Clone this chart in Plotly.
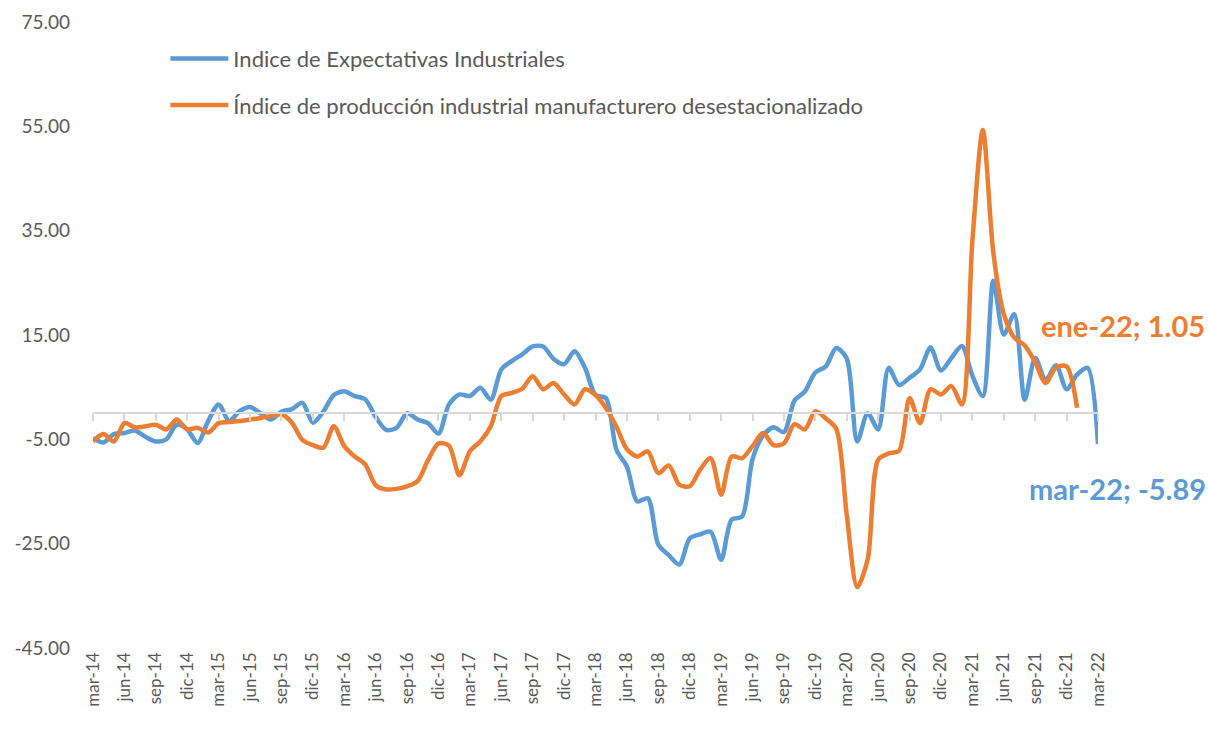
import plotly.graph_objects as go

months = ["mar-14","abr-14","may-14","jun-14","jul-14","ago-14","sep-14","oct-14","nov-14","dic-14",
          "ene-15","feb-15","mar-15","abr-15","may-15","jun-15","jul-15","ago-15","sep-15","oct-15","nov-15","dic-15",
          "ene-16","feb-16","mar-16","abr-16","may-16","jun-16","jul-16","ago-16","sep-16","oct-16","nov-16","dic-16",
          "ene-17","feb-17","mar-17","abr-17","may-17","jun-17","jul-17","ago-17","sep-17","oct-17","nov-17","dic-17",
          "ene-18","feb-18","mar-18","abr-18","may-18","jun-18","jul-18","ago-18","sep-18","oct-18","nov-18","dic-18",
          "ene-19","feb-19","mar-19","abr-19","may-19","jun-19","jul-19","ago-19","sep-19","oct-19","nov-19","dic-19",
          "ene-20","feb-20","mar-20","abr-20","may-20","jun-20","jul-20","ago-20","sep-20","oct-20","nov-20","dic-20",
          "ene-21","feb-21","mar-21","abr-21","may-21","jun-21","jul-21","ago-21","sep-21","oct-21","nov-21","dic-21",
          "ene-22","feb-22","mar-22"]

expectativas = [-4.7, -5.6, -4.0, -3.8, -3.3, -4.5, -5.4, -5.0, -2.2, -3.1,
                -5.7, -1.5, 1.7, -1.5, 0.4, 1.2, 0.0, -1.2, 0.3, 0.8, 2.0, -1.8,
                0.3, 3.5, 4.2, 3.3, 2.7, -0.7, -3.2, -2.8, 0.0, -1.2, -1.9, -3.9,
                1.7, 3.6, 3.3, 4.9, 2.6, 8.4, 10.0, 11.3, 12.8, 12.8, 10.4, 9.4,
                11.9, 8.7, 3.5, 2.9, -7.0, -10.2, -16.9, -16.3, -25.2, -27.2, -29.0, -24.0,
                -23.2, -22.7, -28.1, -20.4, -19.8, -8.8, -4.3, -2.7, -3.6, 2.4, 4.2, 7.8,
                9.0, 12.5, 10.5, -5.4, 0.0, -3.1, 8.7, 5.4, 6.8, 8.4, 12.6, 8.2,
                10.6, 12.9, 7.2, 3.3, 25.4, 15.1, 19.0, 2.6, 10.6, 6.4, 9.2, 4.6,
                7.4, 8.7, -5.89]

produccion = [-5.4, -4.0, -5.4, -1.9, -2.7, -2.5, -2.2, -3.1, -1.2, -3.1,
              -2.8, -3.7, -1.9, -1.7, -1.5, -1.2, -0.9, -0.5, -0.2, -1.8, -5.1, -6.1,
              -6.6, -2.5, -6.3, -8.3, -9.8, -13.8, -14.6, -14.5, -14.0, -13.0, -9.0, -5.8,
              -6.2, -11.9, -7.3, -5.4, -2.5, 3.3, 3.9, 4.7, 7.1, 4.6, 5.8, 3.6,
              1.7, 4.6, 3.5, 1.0, -2.6, -6.9, -8.3, -7.3, -11.5, -10.0, -13.7, -14.0,
              -10.8, -8.6, -15.6, -8.3, -8.6, -6.3, -3.8, -6.1, -5.8, -2.1, -3.1, 0.4,
              -1.0, -3.0, -19.5, -33.3, -28.0, -8.9, -7.7, -7.2, 2.9, -1.9, 4.6, 3.6,
              5.2, 1.7, 33.0, 54.3, 30.8, 19.0, 14.5, 13.0, 9.8, 5.8, 8.8, 9.0,
              1.05]

tick_labels = months[::3]
y_ticks = [-45, -25, -5, 15, 35, 55, 75]
y_tick_text = ["-45.00", "-25.00", "-5.00", "15.00", "35.00", "55.00", "75.00"]

name_exp = "Indice de Expectativas Industriales"
name_prod = "Índice de producción industrial manufacturero desestacionalizado"
label_exp = "mar-22; -5.89"
label_prod = "ene-22; 1.05"

BLUE = "#5B9BD5"
ORANGE = "#ED7D31"
GREY = "#595959"
AXIS = "#D9D9D9"
FONT = "Lato, Carlito, sans-serif"

fig = go.Figure()
fig.add_trace(go.Scatter(x=months, y=expectativas, name=name_exp, mode="lines",
                         line=dict(color=BLUE, width=4.5, shape="spline", smoothing=0.8),
                         legendgroup="a"))
fig.add_trace(go.Scatter(x=months[:len(produccion)], y=produccion, name=name_prod, mode="lines",
                         line=dict(color=ORANGE, width=4.5, shape="spline", smoothing=0.8),
                         legendgroup="b"))
# invisible helper trace for the category axis drawn at zero
fig.add_trace(go.Scatter(x=months, y=[0] * len(months), xaxis="x2", yaxis="y", mode="lines",
                         line=dict(color="rgba(0,0,0,0)", width=0), showlegend=False, hoverinfo="skip"))

fig.add_annotation(x=months[len(produccion) - 1], y=produccion[-1], xref="x", yref="y",
                   text="<b>" + label_prod + "</b>", showarrow=False, xshift=46, yshift=82,
                   font=dict(family=FONT, size=29, color=ORANGE))
fig.add_annotation(x=months[-1], y=expectativas[-1], xref="x", yref="y",
                   text="<b>" + label_exp + "</b>", showarrow=False, xshift=19, yshift=-45,
                   font=dict(family=FONT, size=29, color=BLUE))

fig.update_layout(
    width=1208, height=735, autosize=False,
    margin=dict(l=93, r=110, t=22, b=87, autoexpand=False),
    paper_bgcolor="white", plot_bgcolor="white",
    font=dict(family=FONT, color=GREY),
    xaxis=dict(type="category", range=[0, len(months) - 1], tickmode="array", tickvals=tick_labels,
               ticktext=tick_labels, tickangle=-90, showgrid=False, showline=False, ticks="",
               zeroline=False, automargin=False, tickfont=dict(family=FONT, size=17, color=GREY)),
    xaxis2=dict(type="category", overlaying="x", anchor="free", position=(0 - y_ticks[0]) / (y_ticks[-1] - y_ticks[0]),
                matches="x", tickmode="array", tickvals=tick_labels, showticklabels=False,
                showline=True, linecolor=AXIS, linewidth=2, ticks="outside", ticklen=7,
                tickcolor=AXIS, tickwidth=2, showgrid=False, zeroline=False, automargin=False),
    yaxis=dict(range=[y_ticks[0], y_ticks[-1]], tickmode="array", tickvals=y_ticks,
               ticktext=y_tick_text, showgrid=False, zeroline=False, showline=False, ticks="",
               automargin=False, ticklabelstandoff=22, tickfont=dict(family=FONT, size=19, color=GREY)),
    showlegend=True,
    legend=dict(x=0.072, y=0.975, xanchor="left", yanchor="top", traceorder="grouped",
                tracegroupgap=15, itemwidth=58, bgcolor="rgba(0,0,0,0)",
                font=dict(family=FONT, size=22, color=GREY)),
)

fig.write_html("out.html", config={"displayModeBar": False},
               post_script="document.body.style.margin='0';")
